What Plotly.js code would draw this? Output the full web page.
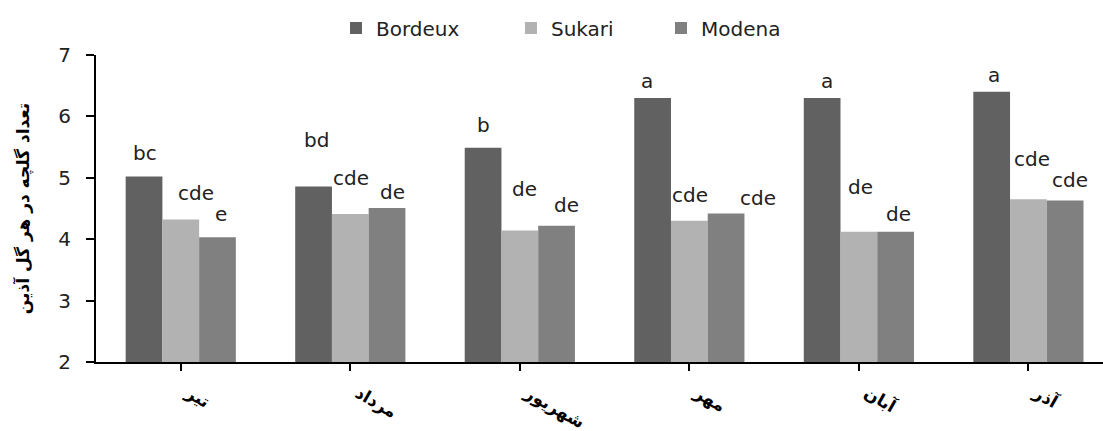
<!DOCTYPE html>
<html>
<head>
<meta charset="utf-8">
<script src="https://cdn.plot.ly/plotly-3.0.1.min.js"></script>
<style>html,body{margin:0;padding:0;background:#fff;}#chart{width:1103px;height:431px;}</style>
</head>
<body>
<div id="chart"></div>
<script>
// ---- data ----
const months = ["تیر", "مرداد", "شهریور", "مهر", "آبان", "آذر"];
const seriesNames = ["Bordeux", "Sukari", "Modena"];
const bordeaux = [5.02, 4.86, 5.49, 6.30, 6.30, 6.40];
const sukari   = [4.32, 4.41, 4.14, 4.30, 4.12, 4.65];
const modena   = [4.03, 4.51, 4.22, 4.42, 4.12, 4.63];
const bordeauxLetters = ["bc", "bd", "b", "a", "a", "a"];
const sukariLetters   = ["cde", "cde", "de", "cde", "de", "cde"];
const modenaLetters   = ["e", "de", "de", "cde", "de", "cde"];
const yTitle = "تعداد گلچه در هر گل آذین";

// ---- styling (label offsets in px: [xshift, yshift above bar top]) ----
const colors = ["#616161", "#b2b2b2", "#808080"];
const bordeauxOff = [[1,24],[3,46],[0,23],[-6,17],[5,17],[2,17]];
const sukariOff   = [[15,27],[1,36],[5,42],[1,26],[2,45],[4,40]];
const modenaOff   = [[3,23],[5,16],[10,21],[32,15],[3,18],[5,21]];
const legendLeft  = [336, 511, 661]; // px, container

const xIdx = months.map((m, i) => i);
const allVals = [bordeaux, sukari, modena];
const allLetters = [bordeauxLetters, sukariLetters, modenaLetters];
const allOff = [bordeauxOff, sukariOff, modenaOff];
const bargap = 0.35;
const barW = (1 - bargap) / 3;
const legendIds = ["legend", "legend2", "legend3"];

const traces = allVals.map((vals, s) => ({
  type: "bar",
  name: seriesNames[s],
  x: xIdx,
  y: vals,
  legend: legendIds[s],
  marker: { color: colors[s], line: { width: 0 } },
  hoverinfo: "skip"
}));

const annotations = [];
allVals.forEach((vals, s) => {
  vals.forEach((v, i) => {
    annotations.push({
      x: i + (s - 1) * barW,
      y: v,
      xref: "x", yref: "y",
      text: allLetters[s][i],
      showarrow: false,
      xanchor: "center",
      yanchor: "middle",
      xshift: allOff[s][i][0],
      yshift: allOff[s][i][1],
      font: { family: "DejaVu Sans", size: 20, color: "#222" }
    });
  });
});

const layout = {
  width: 1103,
  height: 431,
  margin: { l: 96, r: 0, t: 55, b: 69, pad: 0 },
  paper_bgcolor: "#fff",
  plot_bgcolor: "#fff",
  barmode: "group",
  bargap: bargap,
  bargroupgap: 0,
  font: { family: "DejaVu Sans", color: "#222" },
  showlegend: true,
  xaxis: {
    range: [-0.5, 5.44],
    tickmode: "array",
    tickvals: xIdx,
    ticktext: months,
    tickangle: 30,
    tickson: "boundaries",
    ticks: "outside",
    ticklen: 7,
    tickwidth: 2,
    tickcolor: "#000",
    showline: true,
    linecolor: "#000",
    linewidth: 2,
    showgrid: false,
    zeroline: false,
    ticklabelshift: 8,
    ticklabelstandoff: 6,
    tickfont: { family: "DejaVu Sans", size: 17, color: "#000", weight: "bold" },
    fixedrange: true
  },
  yaxis: {
    range: [2, 7],
    tickvals: [2, 3, 4, 5, 6, 7],
    ticks: "outside",
    ticklen: 8,
    tickwidth: 2,
    tickcolor: "#000",
    showline: true,
    linecolor: "#000",
    linewidth: 2,
    showgrid: false,
    zeroline: false,
    ticklabelstandoff: 11,
    tickfont: { family: "DejaVu Sans", size: 20, color: "#222" },
    title: { text: yTitle, font: { family: "DejaVu Sans", size: 17, color: "#000", weight: "bold" }, standoff: 24 },
    fixedrange: true
  },
  annotations: annotations
};

legendIds.forEach((id, s) => {
  layout[id] = {
    orientation: "h",
    xref: "container", yref: "container",
    x: legendLeft[s] / 1103, xanchor: "left",
    y: 1 - 28 / 431, yanchor: "middle",
    font: { family: "DejaVu Sans", size: 20, color: "#222" },
    itemwidth: 30,
    bgcolor: "rgba(0,0,0,0)"
  };
});

Plotly.newPlot("chart", traces, layout, { displayModeBar: false, staticPlot: true });
</script>
</body>
</html>
